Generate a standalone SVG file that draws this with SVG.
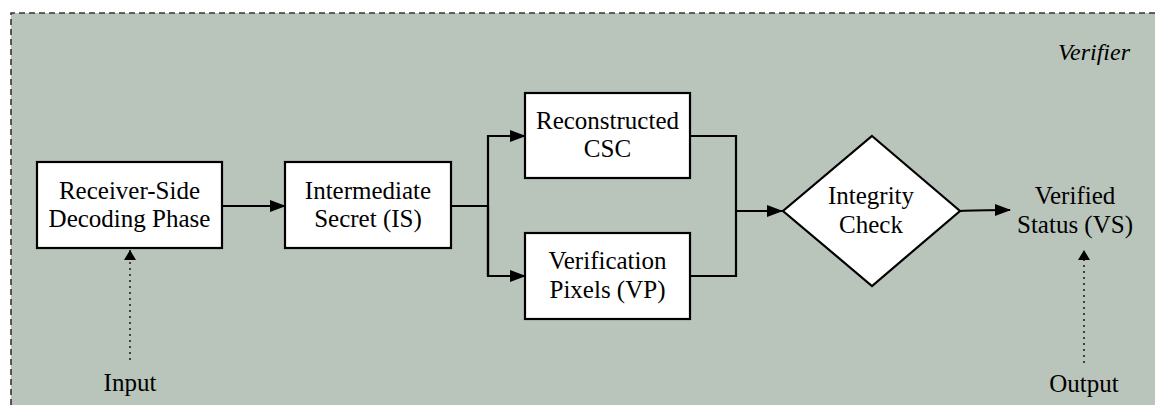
<svg xmlns="http://www.w3.org/2000/svg" width="1155" height="407" viewBox="0 0 1155 407">
<defs>
<marker id="ah" markerWidth="16" markerHeight="12" refX="15" refY="6" orient="auto" markerUnits="userSpaceOnUse">
<path d="M0,0 L16,6 L0,12 Z" fill="#000"/>
</marker>
<marker id="ahs" markerWidth="10" markerHeight="12" refX="10" refY="6" orient="auto" markerUnits="userSpaceOnUse">
<path d="M0,0 L10,6 L0,12 Z" fill="#000"/>
</marker>
</defs>
<g id="verifier">
<rect x="11" y="13" width="1150" height="392" fill="#b9c4ba"/>
<path d="M11,405 L11,13 L1155,13" fill="none" stroke="#333" stroke-width="1.6" stroke-dasharray="6 4"/>
<text x="1130" y="60" font-family="Liberation Serif" font-style="italic" font-size="24" text-anchor="end">Verifier</text>
</g>
<g id="connectors" fill="none" stroke="#000" stroke-width="2.2">
<line x1="222" y1="206" x2="285" y2="206" marker-end="url(#ah)"/>
<polyline points="451,206 488,206"/>
<polyline points="488,276 488,136 525,136" marker-end="url(#ah)"/>
<polyline points="488,206 488,276 525,276" marker-end="url(#ah)"/>
<polyline points="690,136 736,136 736,276 690,276"/>
<line x1="736" y1="211" x2="782" y2="211" marker-end="url(#ah)"/>
<path d="M960,211 Q975,210 1010,210" marker-end="url(#ah)"/>
<line x1="130" y1="360" x2="130" y2="250" stroke="#222" stroke-width="1.6" stroke-dasharray="2 4" marker-end="url(#ahs)"/>
<line x1="1084" y1="363" x2="1084" y2="250" stroke="#222" stroke-width="1.6" stroke-dasharray="2 4" marker-end="url(#ahs)"/>
</g>
<g id="decoding">
<rect x="37" y="162" width="185" height="86" fill="#fff" stroke="#000" stroke-width="2.2"/>
<text x="129.5" y="199" font-family="Liberation Serif" font-size="25" text-anchor="middle">Receiver-Side</text>
<text x="129.5" y="227" font-family="Liberation Serif" font-size="25" text-anchor="middle">Decoding Phase</text>
</g>
<g id="is">
<rect x="285" y="162" width="166" height="86" fill="#fff" stroke="#000" stroke-width="2.2"/>
<text x="368" y="199" font-family="Liberation Serif" font-size="25" text-anchor="middle">Intermediate</text>
<text x="368" y="227" font-family="Liberation Serif" font-size="25" text-anchor="middle">Secret (IS)</text>
</g>
<g id="csc">
<rect x="525" y="93" width="165" height="85" fill="#fff" stroke="#000" stroke-width="2.2"/>
<text x="607.5" y="129" font-family="Liberation Serif" font-size="25" text-anchor="middle">Reconstructed</text>
<text x="607.5" y="157" font-family="Liberation Serif" font-size="25" text-anchor="middle">CSC</text>
</g>
<g id="vp">
<rect x="525" y="233" width="165" height="86" fill="#fff" stroke="#000" stroke-width="2.2"/>
<text x="607.5" y="269" font-family="Liberation Serif" font-size="25" text-anchor="middle">Verification</text>
<text x="607.5" y="298" font-family="Liberation Serif" font-size="25" text-anchor="middle">Pixels (VP)</text>
</g>
<g id="integrity">
<polygon points="872,136 960,211 872,286 783,211" fill="#fff" stroke="#000" stroke-width="2.2"/>
<text x="871" y="204" font-family="Liberation Serif" font-size="25" text-anchor="middle">Integrity</text>
<text x="871" y="233" font-family="Liberation Serif" font-size="25" text-anchor="middle">Check</text>
</g>
<g id="vs">
<text x="1075" y="204" font-family="Liberation Serif" font-size="25" text-anchor="middle">Verified</text>
<text x="1075" y="233" font-family="Liberation Serif" font-size="25" text-anchor="middle">Status (VS)</text>
</g>
<g id="input">
<text x="130" y="391" font-family="Liberation Serif" font-size="25" text-anchor="middle">Input</text>
</g>
<g id="output">
<text x="1084" y="392" font-family="Liberation Serif" font-size="25" text-anchor="middle">Output</text>
</g>
</svg>
